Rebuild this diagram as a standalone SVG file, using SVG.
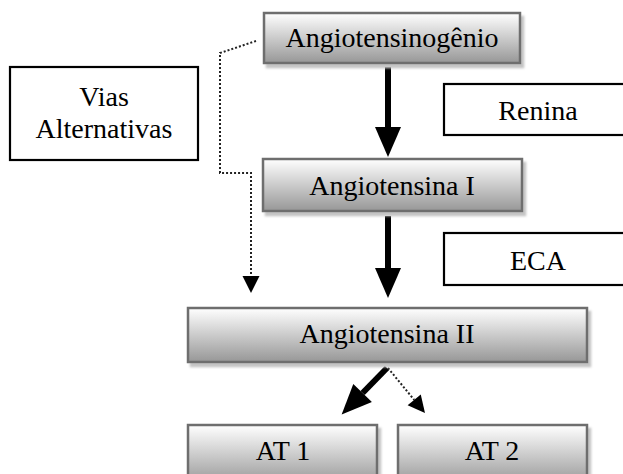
<svg xmlns="http://www.w3.org/2000/svg" width="623" height="474" viewBox="0 0 623 474">
<style>
.g{fill:url(#grad);stroke:#6e6e6e;stroke-width:2.5;filter:url(#sh)}
.w{fill:#fff;stroke:#000;stroke-width:2.2}
text{font-family:"Liberation Serif","Times New Roman",serif;font-size:28px;fill:#000;text-anchor:middle}
.thick{stroke:#000;stroke-width:6;fill:none;marker-end:url(#big)}
.dot{stroke:#222;stroke-width:2;stroke-dasharray:2 2;fill:none}
.doth{marker-end:url(#small)}
</style>
<defs>
<linearGradient id="grad" x1="0" y1="0" x2="0" y2="1">
<stop offset="0" stop-color="#ffffff"/>
<stop offset="1" stop-color="#979797"/>
</linearGradient>
<filter id="sh" x="-10%" y="-20%" width="130%" height="160%">
<feDropShadow dx="3" dy="4" stdDeviation="1" flood-color="#c4c4c4" flood-opacity="1"/>
</filter>
<marker id="big" markerUnits="userSpaceOnUse" markerWidth="32" markerHeight="28" viewBox="0 -14 30 28" refX="0" refY="0" orient="auto">
<path d="M0,-13 L30,0 L0,13 z" fill="#000"/>
</marker>
<marker id="small" markerUnits="userSpaceOnUse" markerWidth="18" markerHeight="18" viewBox="0 -9 17 18" refX="0" refY="0" orient="auto">
<path d="M0,-8.5 L17,0 L0,8.5 z" fill="#000"/>
</marker>
</defs>

<g id="connectors">
<line class="thick" x1="388" y1="67" x2="388" y2="127"/>
<line class="thick" x1="388" y1="216" x2="388" y2="268"/>
<polyline class="dot doth" points="256,41 220,53 220,173 251,173 251,276"/>
<line class="thick" x1="387" y1="368" x2="362.6" y2="393"/>
<line class="dot doth" x1="388" y1="368" x2="414.2" y2="399.9"/>
</g>

<g id="angiotensinogenio">
<rect class="g" x="264" y="13" width="256" height="50"/>
<text x="392" y="47">Angiotensinogênio</text>
</g>
<g id="vias">
<rect class="w" x="10" y="67" width="188" height="93"/>
<text x="104" y="106">Vias</text>
<text x="104" y="138">Alternativas</text>
</g>
<g id="renina">
<rect class="w" x="444" y="84" width="190" height="51"/>
<text x="538" y="120">Renina</text>
</g>
<g id="angiotensina1">
<rect class="g" x="263" y="159" width="259" height="52"/>
<text x="392" y="195">Angiotensina I</text>
</g>
<g id="eca">
<rect class="w" x="444" y="233" width="190" height="52"/>
<text x="538" y="270">ECA</text>
</g>
<g id="angiotensina2">
<rect class="g" x="188" y="308" width="399" height="54"/>
<text x="387" y="343">Angiotensina II</text>
</g>
<g id="at1">
<rect class="g" x="188" y="425" width="189" height="60"/>
<text x="283" y="460">AT 1</text>
</g>
<g id="at2">
<rect class="g" x="398" y="425" width="189" height="60"/>
<text x="492" y="460">AT 2</text>
</g>
</svg>
